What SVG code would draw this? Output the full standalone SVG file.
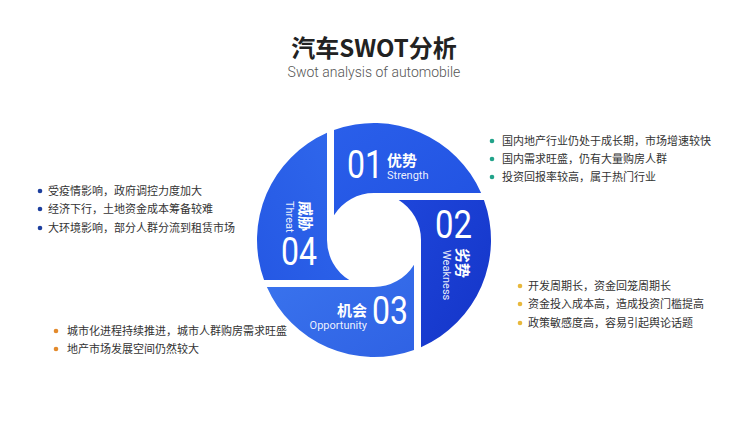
<svg xmlns="http://www.w3.org/2000/svg" width="750" height="422" viewBox="0 0 750 422">
<defs>
<style>
.title{font-family:"Noto Sans CJK SC","Noto Sans",sans-serif;font-size:24px;font-weight:700;fill:#222;}
.sub{font-family:Roboto,"Noto Sans",sans-serif;font-size:14px;font-weight:300;fill:#555;}
.num{font-family:Roboto,"Liberation Sans",sans-serif;font-size:38px;font-weight:400;fill:#fff;}
.cn{font-family:"Noto Sans CJK SC",sans-serif;font-size:15px;font-weight:700;fill:#fff;}
.en{font-family:Roboto,"Liberation Sans",sans-serif;font-size:11px;fill:#fff;fill-opacity:0.92;}
.item{font-family:"Noto Sans CJK SC",sans-serif;font-size:11px;fill:#333;}
</style>
<linearGradient id="g1" x1="0" y1="0" x2="1" y2="1"><stop offset="0" stop-color="#2a5fea"/><stop offset="1" stop-color="#2152e2"/></linearGradient>
<linearGradient id="g2" x1="0" y1="0" x2="1" y2="1"><stop offset="0" stop-color="#1e46da"/><stop offset="1" stop-color="#1434c8"/></linearGradient>
<linearGradient id="g3" x1="0" y1="0" x2="1" y2="1"><stop offset="0" stop-color="#3a74ee"/><stop offset="1" stop-color="#2f62e4"/></linearGradient>
<linearGradient id="g4" x1="1" y1="0" x2="0" y2="1"><stop offset="0" stop-color="#3068ec"/><stop offset="1" stop-color="#2558e4"/></linearGradient>
</defs>
<rect width="750" height="422" fill="#fff"/>
<g id="title">
<text class="title" x="374" y="57" text-anchor="middle">汽车SWOT分析</text>
<text class="sub" x="374" y="77" text-anchor="middle">Swot analysis of automobile</text>
</g>
<g id="connectors"></g>
<g id="s01">
<path d="M334,130.05 A117,117 0 0,1 481.14,193 L374,193 A47,47 0 0,0 334,215.32 Z" fill="url(#g1)"/>
<text class="num" x="347" y="178" textLength="36" lengthAdjust="spacingAndGlyphs">01</text>
<text class="cn" x="387" y="166">优势</text>
<text class="en" x="387" y="179">Strength</text>
</g>
<g id="s02">
<path d="M483.95,200 A117,117 0 0,1 421,347.14 L421,240 A47,47 0 0,0 398.68,200 Z" fill="url(#g2)"/>
<text class="num" x="435" y="238" textLength="37" lengthAdjust="spacingAndGlyphs">02</text>
<text class="cn" transform="translate(457,248) rotate(90)" x="0" y="0">劣势</text>
<text class="en" transform="translate(443,250) rotate(90)" x="0" y="0">Weakness</text>
</g>
<g id="s03">
<path d="M414,349.95 A117,117 0 0,1 266.86,287 L374,287 A47,47 0 0,0 414,264.68 Z" fill="url(#g3)"/>
<text class="num" x="372" y="324" textLength="36" lengthAdjust="spacingAndGlyphs">03</text>
<text class="cn" x="367" y="316" text-anchor="end">机会</text>
<text class="en" x="367" y="329" text-anchor="end">Opportunity</text>
</g>
<g id="s04">
<path d="M264.05,280 A117,117 0 0,1 327,132.86 L327,240 A47,47 0 0,0 349.32,280 Z" fill="url(#g4)"/>
<text class="num" x="281" y="265" textLength="36" lengthAdjust="spacingAndGlyphs">04</text>
<text class="cn" transform="translate(300,201) rotate(90)" x="0" y="0">威胁</text>
<text class="en" transform="translate(286,201) rotate(90)" x="0" y="0">Threat</text>
</g>
<g id="list-s">
<circle cx="492" cy="141" r="2.3" fill="#22a38a"/><text class="item" x="502" y="145">国内地产行业仍处于成长期，市场增速较快</text>
<circle cx="492" cy="159" r="2.3" fill="#22a38a"/><text class="item" x="502" y="163">国内需求旺盛，仍有大量购房人群</text>
<circle cx="492" cy="177" r="2.3" fill="#22a38a"/><text class="item" x="502" y="181">投资回报率较高，属于热门行业</text>
</g>
<g id="list-t">
<circle cx="40" cy="191" r="2.3" fill="#1d3f9e"/><text class="item" x="48" y="195">受疫情影响，政府调控力度加大</text>
<circle cx="40" cy="209" r="2.3" fill="#1d3f9e"/><text class="item" x="48" y="213">经济下行，土地资金成本筹备较难</text>
<circle cx="40" cy="228" r="2.3" fill="#1d3f9e"/><text class="item" x="48" y="232">大环境影响，部分人群分流到租赁市场</text>
</g>
<g id="list-w">
<circle cx="520" cy="286" r="2.3" fill="#e8b83c"/><text class="item" x="528" y="290">开发周期长，资金回笼周期长</text>
<circle cx="520" cy="304" r="2.3" fill="#e8b83c"/><text class="item" x="528" y="308">资金投入成本高，造成投资门槛提高</text>
<circle cx="520" cy="323" r="2.3" fill="#e8b83c"/><text class="item" x="528" y="327">政策敏感度高，容易引起舆论话题</text>
</g>
<g id="list-o">
<circle cx="56" cy="331" r="2.3" fill="#e38a2c"/><text class="item" x="67" y="335">城市化进程持续推进，城市人群购房需求旺盛</text>
<circle cx="56" cy="349" r="2.3" fill="#e38a2c"/><text class="item" x="67" y="353">地产市场发展空间仍然较大</text>
</g>
</svg>
